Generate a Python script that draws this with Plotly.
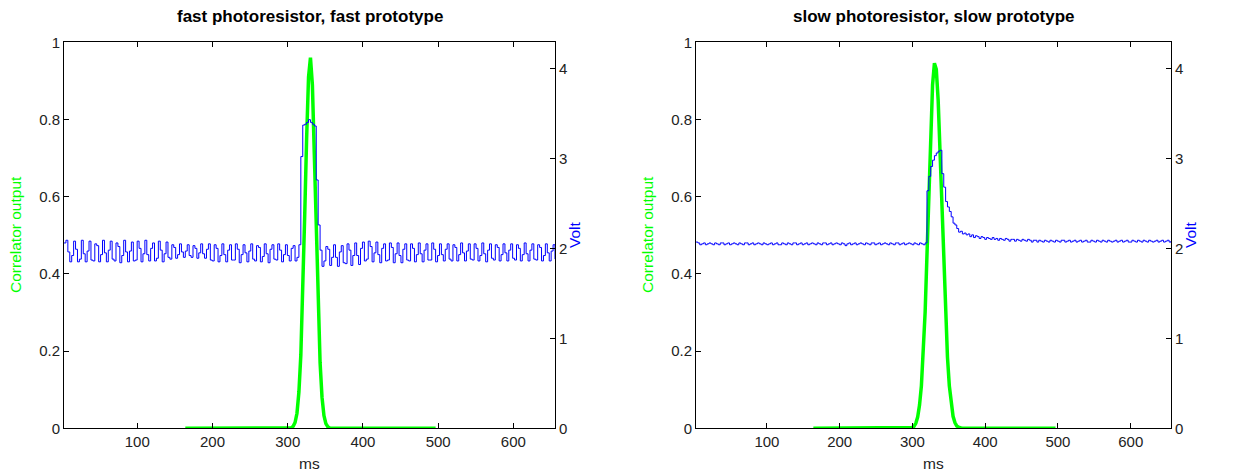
import numpy as np
import plotly.graph_objects as go

SAMPLE_MS = 2.56

# Blue voltage traces, one sample every 2.56 ms (samples 1..256)
volt_fast = [
    2.06, 2.09, 1.96, 1.85, 1.92, 2.08, 1.99, 1.85, 1.88, 2.09,
    1.94, 1.85, 1.97, 2.08, 1.87, 1.86, 2.05, 2.03, 1.85, 1.93,
    2.09, 1.95, 1.85, 1.98, 2.08, 1.88, 1.86, 2.06, 2.02, 1.84,
    1.92, 2.09, 1.96, 1.85, 1.97, 2.07, 1.86, 1.87, 2.08, 2.00,
    1.85, 1.94, 2.09, 1.93, 1.86, 2.00, 2.06, 1.86, 1.89, 2.08,
    1.98, 1.85, 1.94, 2.07, 1.90, 1.88, 2.04, 2.01, 1.89, 1.93,
    2.05, 1.96, 1.90, 1.97, 2.04, 1.92, 1.90, 2.03, 2.00, 1.89,
    1.95, 2.05, 1.94, 1.89, 1.99, 2.05, 1.87, 1.86, 2.04, 2.00,
    1.85, 1.92, 2.05, 1.93, 1.85, 1.98, 2.04, 1.87, 1.87, 2.05,
    1.99, 1.84, 1.93, 2.04, 1.95, 1.85, 1.97, 2.05, 1.88, 1.86,
    2.03, 2.01, 1.85, 1.91, 2.05, 1.94, 1.84, 1.99, 2.04, 1.88,
    1.87, 2.05, 1.98, 1.85, 1.93, 2.04, 1.92, 1.86, 2.00, 2.03,
    1.86, 1.90, 2.04, 3.02, 3.37, 3.38, 3.40, 3.43, 3.40, 3.38,
    3.36, 2.76, 2.26, 1.98, 1.80, 1.86, 2.02, 1.99, 1.81, 1.90,
    2.04, 1.90, 1.80, 1.96, 2.03, 1.84, 1.83, 2.05, 1.98, 1.81,
    1.92, 2.06, 1.92, 1.82, 2.00, 2.07, 1.86, 1.88, 2.08, 2.02,
    1.85, 1.95, 2.07, 1.93, 1.84, 2.00, 2.05, 1.86, 1.87, 2.06,
    2.01, 1.84, 1.94, 2.06, 1.92, 1.84, 1.99, 2.05, 1.87, 1.86,
    2.05, 2.00, 1.85, 1.93, 2.06, 1.94, 1.85, 1.98, 2.05, 1.87,
    1.87, 2.06, 1.99, 1.85, 1.92, 2.05, 1.93, 1.86, 1.99, 2.05,
    1.88, 1.86, 2.04, 2.01, 1.86, 1.93, 2.06, 1.95, 1.86, 1.97,
    2.05, 1.88, 1.87, 2.05, 2.00, 1.86, 1.92, 2.06, 1.94, 1.85,
    1.98, 2.05, 1.89, 1.87, 2.04, 2.01, 1.86, 1.93, 2.05, 1.95,
    1.86, 1.98, 2.05, 1.89, 1.87, 2.04, 2.00, 1.86, 1.93, 2.06,
    1.94, 1.86, 1.98, 2.05, 1.88, 1.87, 2.04, 2.01, 1.86, 1.92,
    2.05, 1.95, 1.86, 1.97, 2.04, 1.88,
]

volt_slow = [
    2.07, 2.06, 2.04, 2.05, 2.06, 2.04, 2.05, 2.06, 2.05, 2.04,
    2.06, 2.05, 2.04, 2.06, 2.06, 2.04, 2.05, 2.06, 2.04, 2.05,
    2.06, 2.05, 2.04, 2.06, 2.05, 2.04, 2.06, 2.06, 2.04, 2.05,
    2.06, 2.04, 2.05, 2.06, 2.05, 2.04, 2.06, 2.05, 2.04, 2.05,
    2.06, 2.04, 2.05, 2.06, 2.04, 2.04, 2.06, 2.05, 2.04, 2.06,
    2.05, 2.04, 2.06, 2.06, 2.04, 2.05, 2.06, 2.04, 2.05, 2.06,
    2.04, 2.05, 2.06, 2.05, 2.04, 2.06, 2.05, 2.04, 2.06, 2.06,
    2.04, 2.05, 2.06, 2.04, 2.05, 2.06, 2.05, 2.04, 2.06, 2.05,
    2.03, 2.05, 2.06, 2.04, 2.05, 2.06, 2.04, 2.05, 2.06, 2.05,
    2.04, 2.06, 2.05, 2.04, 2.06, 2.06, 2.04, 2.05, 2.06, 2.04,
    2.05, 2.06, 2.05, 2.04, 2.06, 2.05, 2.04, 2.06, 2.06, 2.04,
    2.05, 2.06, 2.04, 2.05, 2.06, 2.05, 2.04, 2.06, 2.05, 2.04,
    2.06, 2.05, 2.04, 2.06, 2.64, 2.80, 2.91, 2.98, 3.03, 3.06,
    3.08, 3.09, 2.83, 2.68, 2.52, 2.46, 2.41, 2.35, 2.28, 2.26,
    2.22, 2.18, 2.19, 2.16, 2.17, 2.15, 2.16, 2.13, 2.15, 2.12,
    2.14, 2.13, 2.11, 2.13, 2.12, 2.10, 2.12, 2.11, 2.10, 2.12,
    2.10, 2.11, 2.09, 2.11, 2.10, 2.09, 2.11, 2.10, 2.08, 2.10,
    2.10, 2.08, 2.10, 2.09, 2.08, 2.10, 2.09, 2.08, 2.10, 2.09,
    2.07, 2.09, 2.09, 2.07, 2.09, 2.08, 2.07, 2.09, 2.08, 2.07,
    2.09, 2.08, 2.07, 2.09, 2.08, 2.07, 2.09, 2.09, 2.07, 2.08,
    2.09, 2.07, 2.08, 2.09, 2.07, 2.08, 2.09, 2.07, 2.08, 2.09,
    2.07, 2.07, 2.09, 2.08, 2.07, 2.09, 2.08, 2.07, 2.09, 2.08,
    2.07, 2.09, 2.08, 2.07, 2.08, 2.09, 2.07, 2.08, 2.09, 2.07,
    2.08, 2.09, 2.07, 2.07, 2.09, 2.08, 2.07, 2.09, 2.08, 2.07,
    2.09, 2.08, 2.07, 2.09, 2.08, 2.07, 2.08, 2.09, 2.07, 2.08,
    2.09, 2.07, 2.08, 2.09, 2.07, 2.08,
]

# Correlator outputs, samples 64..194
corr_fast = [
    0, 0, 0, 0, 0, 0, 0, 0, 0, 0,
    0, 0, 0, 0, 0, 0, 0, 0, 0, 0,
    0, 0, 0, 0, 0, 0, 0, 0, 0, 0,
    0, 0, 0, 0, 0, 0, 0, 0, 0, 0,
    0, 0, 0, 0, 0, 0, 0, 0, 0, 0,
    0, 0, 0, 0,
    0.0, 0.001, 0.005, 0.015, 0.039, 0.094, 0.19, 0.35, 0.55, 0.75,
    0.91, 0.96, 0.89, 0.71, 0.51, 0.31, 0.17, 0.08, 0.033, 0.012,
    0.004, 0.001,
    0, 0, 0, 0, 0, 0, 0, 0, 0, 0,
    0, 0, 0, 0, 0, 0, 0, 0, 0, 0,
    0, 0, 0, 0, 0, 0, 0, 0, 0, 0,
    0, 0, 0, 0, 0, 0, 0, 0, 0, 0,
    0, 0, 0, 0, 0, 0, 0, 0, 0, 0,
    0, 0, 0, 0, 0,
]

corr_slow = [
    0, 0, 0, 0, 0, 0, 0, 0, 0, 0,
    0, 0, 0, 0, 0, 0, 0, 0, 0, 0,
    0, 0, 0, 0, 0, 0, 0, 0, 0, 0,
    0, 0, 0, 0, 0, 0, 0, 0, 0, 0,
    0, 0, 0, 0, 0, 0, 0, 0, 0, 0,
    0, 0, 0,
    0.002, 0.005, 0.013, 0.029, 0.06, 0.11, 0.19, 0.30, 0.45, 0.62,
    0.77, 0.89, 0.946, 0.93, 0.85, 0.71, 0.575, 0.427, 0.29, 0.184,
    0.11, 0.06, 0.031, 0.015, 0.006, 0.003, 0.001,
    0, 0, 0, 0, 0, 0, 0, 0, 0, 0,
    0, 0, 0, 0, 0, 0, 0, 0, 0, 0,
    0, 0, 0, 0, 0, 0, 0, 0, 0, 0,
    0, 0, 0, 0, 0, 0, 0, 0, 0, 0,
    0, 0, 0, 0, 0, 0, 0, 0, 0, 0,
    0,
]

titles = ["fast photoresistor, fast prototype", "slow photoresistor, slow prototype"]
x_ticks = [100, 200, 300, 400, 500, 600]

t_volt = np.arange(1, len(volt_fast) + 1) * SAMPLE_MS
t_corr = np.arange(64, 64 + len(corr_fast)) * SAMPLE_MS

# the page body has an 8px margin, so the figure starts at (8, 8) of the window
OFF = 8
W, H = 1237 - OFF, 474 - OFF
FONT = "Liberation Sans, Arial, sans-serif"
GREEN = "#00ff00"
BLUE = "#0000ff"


def fx(px):
    return (px - OFF) / W


def fy(py):
    return 1 - (py - OFF) / H


fig = go.Figure()

fig.add_trace(go.Scatter(x=t_corr, y=corr_fast, mode="lines",
                         line=dict(color=GREEN, width=3.5), xaxis="x", yaxis="y",
                         showlegend=False, hoverinfo="skip"))
fig.add_trace(go.Scatter(x=t_volt, y=volt_fast, mode="lines", line_shape="hv",
                         line=dict(color=BLUE, width=1), xaxis="x", yaxis="y2",
                         showlegend=False, hoverinfo="skip"))
fig.add_trace(go.Scatter(x=t_corr, y=corr_slow, mode="lines",
                         line=dict(color=GREEN, width=3.5), xaxis="x2", yaxis="y3",
                         showlegend=False, hoverinfo="skip"))
fig.add_trace(go.Scatter(x=t_volt, y=volt_slow, mode="lines", line_shape="hv",
                         line=dict(color=BLUE, width=1), xaxis="x2", yaxis="y4",
                         showlegend=False, hoverinfo="skip"))

px_l = [(64, 555), (696, 1171)]
y_bot, y_top = 428.3, 42.3
ydom = [fy(y_bot), fy(y_top)]
xrange_ = [SAMPLE_MS, SAMPLE_MS * len(volt_fast)]

tickfont = dict(family=FONT, size=15, color="#222222")
base = dict(ticks="inside", ticklen=5, showline=True, linecolor="black", linewidth=1,
            showgrid=False, zeroline=False, tickfont=tickfont, tickcolor="black",
            automargin=False)
common_x = dict(range=xrange_, tickvals=x_ticks, mirror="ticks", **base)
common_y = dict(range=[0, 1], dtick=0.2, tick0=0, side="left", **base)
common_y2 = dict(range=[0, 4.29], dtick=1, tick0=0, side="right", **base)

fig.update_layout(
    width=W, height=H, margin=dict(l=0, r=0, t=0, b=0, autoexpand=False),
    paper_bgcolor="white", plot_bgcolor="white",
    xaxis=dict(domain=[fx(px_l[0][0]), fx(px_l[0][1])], anchor="y", **common_x),
    yaxis=dict(domain=ydom, anchor="x", **common_y),
    yaxis2=dict(overlaying="y", anchor="x", **common_y2),
    xaxis2=dict(domain=[fx(px_l[1][0]), fx(px_l[1][1])], anchor="y3", **common_x),
    yaxis3=dict(domain=ydom, anchor="x2", **common_y),
    yaxis4=dict(overlaying="y3", anchor="x2", **common_y2),
)

ann = []
for i, (a, b) in enumerate(px_l):
    cx = fx((a + b) / 2)
    ann.append(dict(text="<b>%s</b>" % titles[i], x=cx, y=fy(16), xref="paper", yref="paper",
                    showarrow=False, font=dict(family=FONT, size=17, color="black"),
                    xanchor="center", yanchor="middle"))
    ann.append(dict(text="ms", x=cx, y=fy(463), xref="paper", yref="paper",
                    showarrow=False, font=dict(family=FONT, size=15.5, color="#222222"),
                    xanchor="center", yanchor="middle"))
    ann.append(dict(text="Correlator output", x=fx(a - 48), y=fy(235),
                    xref="paper", yref="paper", textangle=-90, showarrow=False,
                    font=dict(family=FONT, size=15.5, color=GREEN),
                    xanchor="center", yanchor="middle"))
    ann.append(dict(text="Volt", x=fx(b + 20), y=fy(235),
                    xref="paper", yref="paper", textangle=-90, showarrow=False,
                    font=dict(family=FONT, size=15.5, color=BLUE),
                    xanchor="center", yanchor="middle"))
fig.update_layout(annotations=ann)

fig.write_html("out.html")
